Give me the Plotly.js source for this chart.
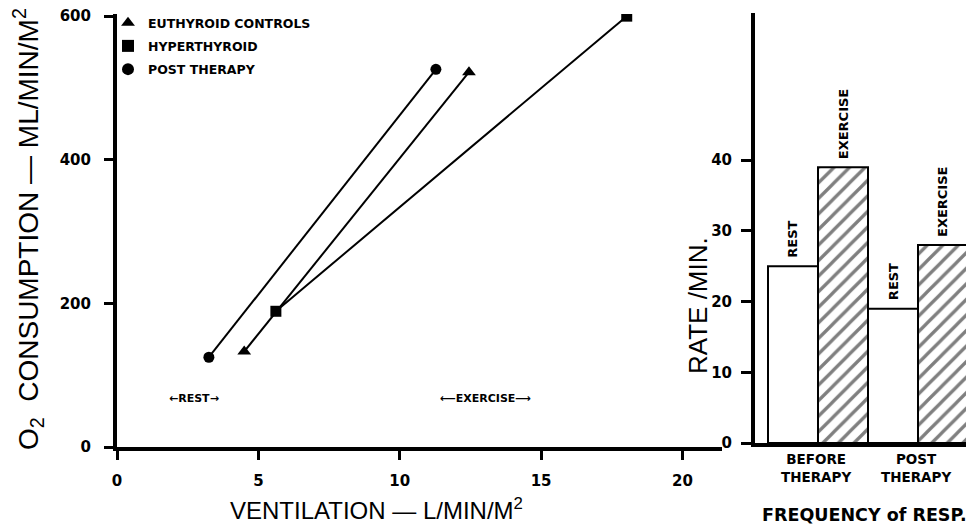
<!DOCTYPE html>
<html>
<head>
<meta charset="utf-8">
<script src="https://cdn.plot.ly/plotly-3.0.1.min.js"></script>
<style>html,body{margin:0;padding:0;background:#fff;}#chart{width:966px;height:527px;}</style>
</head>
<body>
<div id="chart"></div>
<script>
// ---- Left panel: O2 consumption vs ventilation ----
const seriesNames = ['EUTHYROID CONTROLS', 'HYPERTHYROID', 'POST THERAPY'];
const seriesSymbols = ['triangle-up', 'square', 'circle'];
const ventEuthyroid = [4.5, 12.45];
const o2Euthyroid = [133, 522];
const ventHyper = [5.62, 18.03];
const o2Hyper = [189, 600];
const ventPost = [3.25, 11.28];
const o2Post = [125, 526];
const xTicks = [0, 5, 10, 15, 20];
const yTicks = [0, 200, 400, 600];

// ---- Right panel: respiration frequency ----
const barCategories = ['Before rest', 'Before exercise', 'Post rest', 'Post exercise'];
const barValues = [25, 39, 19, 28];
const barLabels = ['REST', 'EXERCISE', 'REST', 'EXERCISE'];
const barHatched = [false, true, false, true];
const groupLabels = ['BEFORE<br>THERAPY', 'POST<br>THERAPY'];
const rateTicks = [0, 10, 20, 30, 40];

const TITLE_FONT = 'Liberation Sans, Arial, sans-serif';
const BOLD_FONT = 'DejaVu Sans, sans-serif';
const vents = [ventEuthyroid, ventHyper, ventPost];
const o2s = [o2Euthyroid, o2Hyper, o2Post];

const traces = [];
for (let i = 0; i < 3; i++) {
  traces.push({
    x: vents[i], y: o2s[i], type: 'scatter', mode: 'lines+markers',
    line: {color: '#000', width: 2},
    marker: {symbol: seriesSymbols[i], size: i === 0 ? 12 : 11, color: '#000'},
    showlegend: false, xaxis: 'x', yaxis: 'y', hoverinfo: 'skip'
  });
}
for (let i = 0; i < 3; i++) {
  traces.push({
    x: [null], y: [null], type: 'scatter', mode: 'markers', name: seriesNames[i],
    legendgroup: 'g' + i,
    marker: {symbol: seriesSymbols[i], size: 11, color: '#000'},
    showlegend: true, xaxis: 'x', yaxis: 'y'
  });
}
traces.push({
  x: barCategories, y: barValues, type: 'bar', xaxis: 'x2', yaxis: 'y2', width: 1,
  showlegend: false, hoverinfo: 'skip',
  marker: {
    color: '#fff',
    line: {color: '#000', width: 2},
    pattern: {
      shape: barHatched.map(h => h ? '/' : ''),
      fgcolor: '#000', bgcolor: '#fff', size: 11, solidity: 0.3, fillmode: 'overlay'
    }
  }
});

const annotations = [
  {text: 'O<sub>2</sub>  CONSUMPTION — ML/MIN/M<sup>2</sup>', xref: 'paper', yref: 'paper',
   x: 28/966, y: 1 - 229/527, xanchor: 'center', yanchor: 'middle', textangle: -90, showarrow: false,
   font: {family: TITLE_FONT, size: 28, color: '#000'}},
  {text: 'VENTILATION — L/MIN/M<sup>2</sup>', xref: 'paper', yref: 'paper',
   x: 376/966, y: 1 - 509/527, xanchor: 'center', yanchor: 'middle', showarrow: false,
   font: {family: TITLE_FONT, size: 24, color: '#000'}},
  {text: '←REST→', xref: 'paper', yref: 'paper', x: 194/966, y: 1 - 398/527,
   xanchor: 'center', yanchor: 'middle', showarrow: false,
   font: {family: BOLD_FONT, size: 11, color: '#000', weight: 'bold'}},
  {text: '⟵EXERCISE⟶', xref: 'paper', yref: 'paper', x: 486/966, y: 1 - 398/527,
   xanchor: 'center', yanchor: 'middle', showarrow: false,
   font: {family: BOLD_FONT, size: 11, color: '#000', weight: 'bold'}},
  {text: 'RATE /MIN.', xref: 'paper', yref: 'paper', x: 698/966, y: 1 - 306/527,
   xanchor: 'center', yanchor: 'middle', textangle: -90, showarrow: false,
   font: {family: TITLE_FONT, size: 26, color: '#000'}},
  {text: 'FREQUENCY of RESP.', xref: 'paper', yref: 'paper', x: 760/966, xanchor: 'left',
   y: 1 - 515/527, yanchor: 'middle', showarrow: false,
   font: {family: BOLD_FONT, size: 17.5, color: '#000', weight: 'bold'}}
];
for (let i = 0; i < barValues.length; i++) {
  annotations.push({
    text: barLabels[i], xref: 'x2', yref: 'y2', x: barCategories[i], y: barValues[i],
    xanchor: 'center', yanchor: 'bottom', yshift: 6, textangle: -90, showarrow: false,
    font: {family: BOLD_FONT, size: 13, color: '#000', weight: 'bold'}
  });
}
for (let g = 0; g < groupLabels.length; g++) {
  annotations.push({
    text: groupLabels[g], xref: 'x2', yref: 'paper', x: 2 * g + 0.45, y: 1 - 449/527,
    xanchor: 'center', yanchor: 'top', showarrow: false,
    font: {family: BOLD_FONT, size: 13.5, color: '#000', weight: 'bold'}
  });
}

const layout = {
  width: 966, height: 527,
  margin: {l: 0, r: 0, t: 0, b: 0},
  paper_bgcolor: '#fff', plot_bgcolor: 'rgba(0,0,0,0)',
  font: {family: TITLE_FONT, color: '#000'},
  bargap: 0,
  showlegend: true,
  legend: {
    x: 108/966, y: 1 - 8/527, xanchor: 'left', yanchor: 'top',
    bgcolor: 'rgba(0,0,0,0)', borderwidth: 0,
    font: {family: BOLD_FONT, size: 12.5, color: '#000', weight: 'bold'},
    tracegroupgap: 4, itemsizing: 'constant'
  },
  xaxis: {
    domain: [117/966, 722/966], range: [0, 21.4], anchor: 'y',
    showgrid: false, zeroline: false, showline: true, linewidth: 4, linecolor: '#000',
    tickmode: 'array', tickvals: xTicks, ticks: 'outside', ticklen: 9, tickwidth: 3, tickcolor: '#000',
    ticklabelstandoff: 8,
    tickfont: {family: BOLD_FONT, size: 15, color: '#000', weight: 'bold'}
  },
  yaxis: {
    domain: [80/527, 513/527], range: [0, 603], anchor: 'x',
    showgrid: false, zeroline: false, showline: true, linewidth: 4, linecolor: '#000',
    tickmode: 'array', tickvals: yTicks, ticks: 'outside', ticklen: 9, tickwidth: 3, tickcolor: '#000',
    ticklabelstandoff: 10,
    tickfont: {family: BOLD_FONT, size: 15, color: '#000', weight: 'bold'}
  },
  xaxis2: {
    domain: [755/966, 1], range: [-0.76, 3.46], type: 'category', anchor: 'y2',
    showgrid: false, zeroline: false, showline: true, linewidth: 4, linecolor: '#000',
    ticks: '', showticklabels: false
  },
  yaxis2: {
    domain: [84/527, 514/527], range: [0, 60.8], anchor: 'x2',
    showgrid: false, zeroline: false, showline: true, linewidth: 4, linecolor: '#000',
    tickmode: 'array', tickvals: rateTicks, ticks: 'outside', ticklen: 10, tickwidth: 3, tickcolor: '#000',
    ticklabelstandoff: 6,
    tickfont: {family: BOLD_FONT, size: 15, color: '#000', weight: 'bold'}
  },
  annotations: annotations
};

Plotly.newPlot('chart', traces, layout, {displayModeBar: false, staticPlot: true});
</script>
</body>
</html>
